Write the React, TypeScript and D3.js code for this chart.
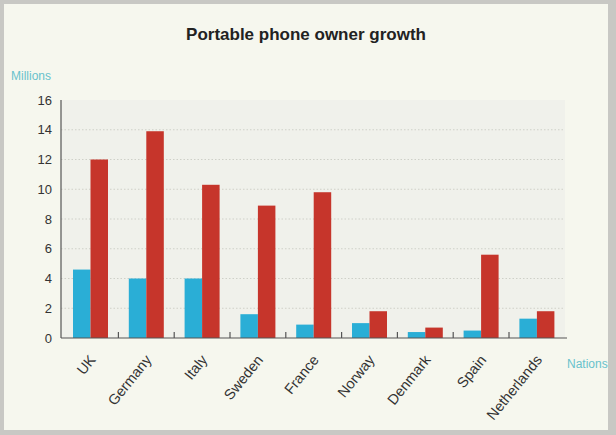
import React from "react";
import * as d3 from "d3";

const nations = ["UK", "Germany", "Italy", "Sweden", "France", "Norway", "Denmark", "Spain", "Netherlands"];
const seriesKeys = ["earlier", "later"];
const earlier = [4.6, 4.0, 4.0, 1.6, 0.9, 1.0, 0.4, 0.5, 1.3];
const later = [12.0, 13.9, 10.3, 8.9, 9.8, 1.8, 0.7, 5.6, 1.8];
const yTicks = [0, 2, 4, 6, 8, 10, 12, 14, 16];

const W = 616;
const H = 435;
const axisX = 61;
const plotRight = 565;
const top = 100;
const base = 338;

const BLUE = "#2aaed6";
const RED = "#c6352b";
const TEAL = "#68c2cc";
const FONT = "'Liberation Sans', Arial, sans-serif";

export default function App() {
  const x = d3.scaleBand<string>().domain(nations).range([62.6, 564.8]).paddingInner(0).paddingOuter(0);
  const pairWidth = 35;
  const inner = d3.scaleBand<string>().domain(seriesKeys).range([0, pairWidth]);
  const y = d3.scaleLinear().domain([0, 16]).range([base, top]);
  const values = [earlier, later];
  const colors = [BLUE, RED];
  const pairOffset = (x.bandwidth() - pairWidth) / 2;

  return (
    <svg width={W} height={H} style={{ position: "absolute", left: 0, top: 0, display: "block" }}>
      <rect x={0} y={0} width={W} height={H} fill="#c8c8c4" />
      <rect x={4} y={4} width={604} height={426} fill="#f6f7ee" />
      <rect x={axisX} y={top} width={plotRight - axisX} height={base - top} fill="#f0f1eb" />

      <text x={306} y={40} textAnchor="middle" fontFamily={FONT} fontWeight="bold" fontSize={17} fill="#222">
        Portable phone owner growth
      </text>

      <text x={11} y={80} fontFamily={FONT} fontSize={12} fill={TEAL}>Millions</text>
      <text x={567} y={368} fontFamily={FONT} fontSize={12} fill={TEAL}>Nations</text>

      {yTicks.filter((t) => t > 0 && t < 16).map((t) => (
        <line key={"g" + t} x1={axisX} x2={plotRight} y1={y(t)} y2={y(t)} stroke="#cfd0c8" strokeWidth={1} strokeDasharray="1.5,2" />
      ))}

      {yTicks.map((t) => (
        <text key={"yl" + t} x={52} y={y(t)} dy="0.35em" textAnchor="end" fontFamily={FONT} fontSize={13} fill="#333">
          {t}
        </text>
      ))}

      {nations.map((n, i) =>
        seriesKeys.map((k, j) => (
          <rect
            key={n + k}
            x={(x(n) as number) + pairOffset + (inner(k) as number)}
            y={y(values[j][i])}
            width={inner.bandwidth()}
            height={base - y(values[j][i])}
            fill={colors[j]}
          />
        ))
      )}

      <line x1={axisX} x2={axisX} y1={top} y2={base} stroke="#555" strokeWidth={1.2} />
      <line x1={axisX} x2={567} y1={base} y2={base} stroke="#555" strokeWidth={1.2} />
      {nations.slice(1).map((n) => (
        <line key={"t" + n} x1={x(n) as number} x2={x(n) as number} y1={base - 6} y2={base} stroke="#555" strokeWidth={1.2} />
      ))}

      {nations.map((n) => {
        const cx = (x(n) as number) + x.bandwidth() / 2 + 2;
        const cy = 357;
        return (
          <text
            key={"xl" + n}
            x={cx}
            y={cy}
            textAnchor="end"
            dy="0.35em"
            transform={`rotate(-51 ${cx} ${cy})`}
            fontFamily={FONT}
            fontSize={14.5}
            fill="#333"
          >
            {n}
          </text>
        );
      })}
    </svg>
  );
}
